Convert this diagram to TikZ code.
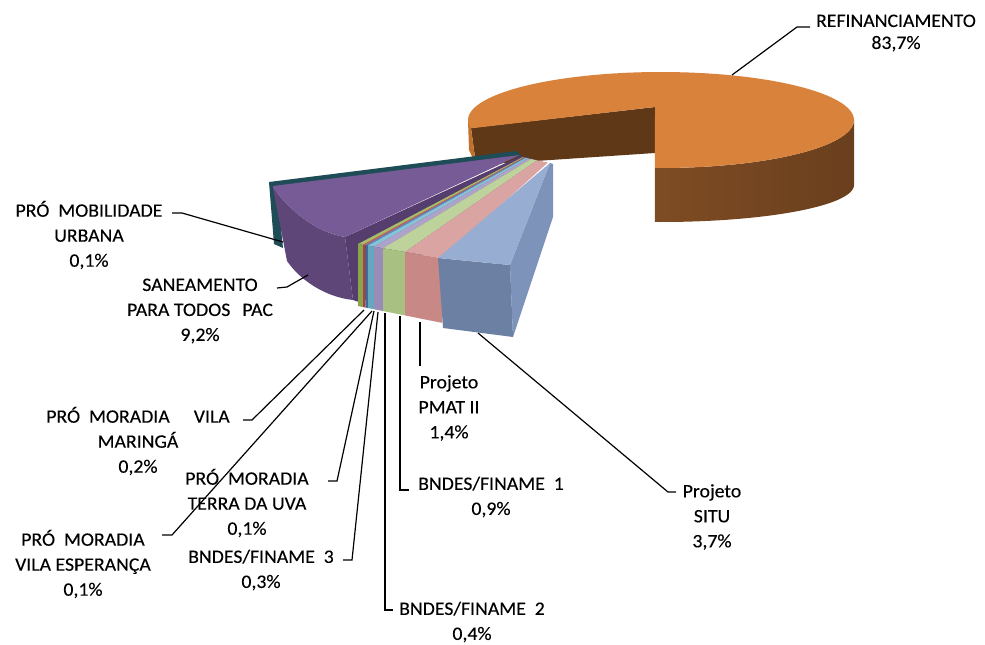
\documentclass[tikz,border=0pt]{standalone}
\usepackage{fontspec}
\setmainfont{Carlito}[FakeStretch=1.04,FakeBold=0.2]
\newcommand\lab{\fontsize{19}{25}\selectfont}
\definecolor{orTop}{HTML}{D9823C}
\definecolor{orIn}{HTML}{5E3817}
\definecolor{orWallA}{HTML}{7E4C24}
\definecolor{orWallB}{HTML}{5A3417}
\definecolor{orWallC}{HTML}{6A3F1D}
\definecolor{orLeft}{HTML}{C0712E}
\definecolor{mobC}{HTML}{1E4D57}
\definecolor{purT}{HTML}{765B96}
\definecolor{purW}{HTML}{5F4679}
\definecolor{purR}{HTML}{553D6E}
\definecolor{marT}{HTML}{A5BE66}
\definecolor{marF}{HTML}{8BA54A}
\definecolor{espT}{HTML}{C8605C}
\definecolor{espF}{HTML}{A8443F}
\definecolor{terT}{HTML}{5F8AC0}
\definecolor{terF}{HTML}{42699E}
\definecolor{btT}{HTML}{86C3D6}
\definecolor{btF}{HTML}{64A8C0}
\definecolor{bdT}{HTML}{ADA2CA}
\definecolor{bdF}{HTML}{998CB8}
\definecolor{buT}{HTML}{BED39C}
\definecolor{buF}{HTML}{A8C081}
\definecolor{pmT}{HTML}{DAA4A2}
\definecolor{pmF}{HTML}{C78886}
\definecolor{siT}{HTML}{97ADD1}
\definecolor{siF}{HTML}{6B80A3}
\definecolor{siR}{HTML}{7D93BA}
% L, R, apexL x, apexL y, apexR x, apexR y, top colour, front colour
\newcommand\fanslice[8]{%
  \fill[#7] ({#1},{244+(#1-358)*0.17}) -- (#3,#4) -- (#5,#6) -- ({#2},{244+(#2-358)*0.17}) -- cycle;
  \fill[#8] ({#1},{244+(#1-358)*0.17}) -- ({#2},{244+(#2-358)*0.17}) -- ({#2},{306+(#2-358)*0.2}) -- ({#1},{306+(#1-358)*0.2}) -- cycle;}
\begin{document}
\begin{tikzpicture}[x=1pt,y=-1pt,
  leader/.style={draw=black,line width=1.2pt},
  lbl/.style={font=\lab,align=center,inner sep=0pt}]
\useasboundingbox (0,0) rectangle (985,645);

% ---------- REFINANCIAMENTO (orange) ----------
\fill[orIn] (471,128) -- (655,107) -- (655,153) -- (476,165) -- cycle;
\fill[orLeft] (468,120) -- (471,128) -- (476,165) -- (469,150) -- cycle;
\shade[left color=orWallA,middle color=orWallB,right color=orWallC]
  plot[domain=360:451.8,samples=60] ({661+193*cos(\x)},{120+48*sin(\x)})
  -- plot[domain=451.8:360,samples=60] ({661+193*cos(\x)},{185+37*sin(\x)}) -- cycle;
\fill[orTop] (655,107) -- plot[domain=170:451.8,samples=100] ({661+193*cos(\x)},{120+48*sin(\x)}) -- cycle;

% ---------- PRO MOBILIDADE (dark teal) + SANEAMENTO (purple) ----------
\fill[mobC] (269,182) -- (516,151) -- (522,156) -- (277,189) -- (283,248) -- (274,244) -- cycle;
\fill[purR] (345,237) -- (521,156) -- (540,162) -- (362,303) -- (353,300) -- cycle;
\fill[purW] (273,188) .. controls (291,211) and (315,232) .. (345,237) -- (353,300)
  .. controls (325,297) and (300,280) .. (287,261) -- cycle;
\fill[purT] (273,186) -- (520,155) -- (345,237) .. controls (315,232) and (291,211) .. (273,188) -- cycle;

% ---------- thin slices ----------
\fanslice{358}{363}{523}{157}{524}{157.3}{marT}{marF}
\fanslice{363}{365.5}{524}{157.3}{525}{157.5}{espT}{espF}
\fanslice{365.5}{368}{525}{157.5}{526}{157.8}{terT}{terF}
\fanslice{368}{374}{526}{157.8}{528}{158.3}{btT}{btF}
\fanslice{374}{383}{528}{158.3}{531}{159}{bdT}{bdF}
\fanslice{383}{405}{531}{159}{537}{160.3}{buT}{buF}
\fanslice{405}{442}{537}{160.3}{548}{162.5}{pmT}{pmF}

% ---------- Projeto SITU ----------
\fill[siR] (510,265) -- (550,163) -- (553,164) -- (553,217) -- (513,337) -- cycle;
\fill[siF] (438,258) -- (510,265) -- (513,337) -- (443,328) -- cycle;
\fill[siT] (438,258) -- (550,163) -- (510,265) -- cycle;

% ---------- labels ----------
\node[lbl,font=\fontsize{19}{22}\selectfont] (refi) at (896,33) {REFINANCIAMENTO\\83,7\%};
\node[lbl] (mob) at (89,235) {PRÓ~~MOBILIDADE\\URBANA\\0,1\%};
\node[lbl] (san) at (200,311) {SANEAMENTO\\PARA TODOS\hspace{12pt}PAC\\9,2\%};
\node[lbl] (mar) at (138,441) {PRÓ~~MORADIA\hspace{24pt}VILA\\MARINGÁ\\0,2\%};
\node[lbl] (ter) at (247,503) {PRÓ~~MORADIA\\TERRA DA UVA\\0,1\%};
\node[lbl] (esp) at (83,564) {PRÓ~~MORADIA\\VILA ESPERANÇA\\0,1\%};
\node[lbl] (bt) at (261,570) {BNDES/FINAME~~3\\0,3\%};
\node[lbl] (bd) at (472,622) {BNDES/FINAME~~2\\0,4\%};
\node[lbl] (bu) at (491,497) {BNDES/FINAME~~1\\0,9\%};
\node[lbl] (pm) at (449,408) {Projeto\\PMAT II\\1,4\%};
\node[lbl] (si) at (712,517) {Projeto\\SITU\\3,7\%};

% ---------- leader lines ----------
\coordinate (sRefi) at (732,75);  \coordinate (kRefi) at (797,27);  \coordinate (eRefi) at (810,27);
\coordinate (sMob) at (283,242);  \coordinate (kMob) at (182,213);  \coordinate (eMob) at (172,213);
\coordinate (sSan) at (308,275);  \coordinate (kSan) at (287,287);  \coordinate (eSan) at (277,288);
\coordinate (sMar) at (364,310);  \coordinate (kMar) at (252,420);  \coordinate (eMar) at (243,420);
\coordinate (sEsp) at (372,311);  \coordinate (kEsp) at (172,535);  \coordinate (eEsp) at (162,535);
\coordinate (sTer) at (374,311);  \coordinate (kTer) at (337,481);  \coordinate (eTer) at (328,481);
\coordinate (sBt) at (378,312);   \coordinate (kBt) at (352,560);   \coordinate (eBt) at (343,560);
\coordinate (sBd) at (385,313);   \coordinate (kBd) at (385,610);   \coordinate (eBd) at (393,610);
\coordinate (sBu) at (400,316);   \coordinate (kBu) at (400,490);   \coordinate (eBu) at (409,490);
\coordinate (sPm) at (420,322);   \coordinate (ePm) at (420,366);
\coordinate (sSi) at (478,333);   \coordinate (kSi) at (668,492);   \coordinate (eSi) at (676,492);

\draw[leader] (sRefi) -- (kRefi) -- (eRefi);
\draw[leader] (sMob) -- (kMob) -- (eMob);
\draw[leader] (sSan) -- (kSan) -- (eSan);
\draw[leader] (sMar) -- (kMar) -- (eMar);
\draw[leader] (sEsp) -- (kEsp) -- (eEsp);
\draw[leader] (sTer) -- (kTer) -- (eTer);
\draw[leader] (sBt) -- (kBt) -- (eBt);
\draw[leader] (sBd) -- (kBd) -- (eBd);
\draw[leader] (sBu) -- (kBu) -- (eBu);
\draw[leader] (sPm) -- (ePm);
\draw[leader] (sSi) -- (kSi) -- (eSi);
\end{tikzpicture}
\end{document}
